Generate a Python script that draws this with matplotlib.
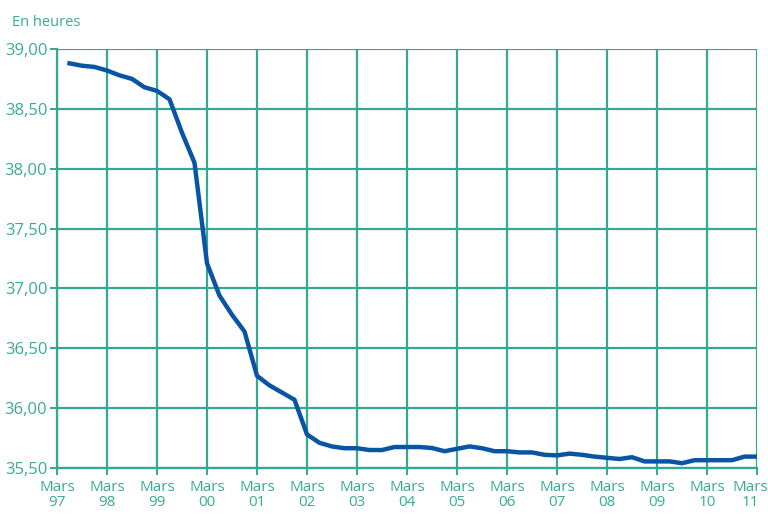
import matplotlib.pyplot as plt
import matplotlib.transforms as mtransforms

# =========================
# Données (trimestrielles, juin 97 -> mars 11)
# =========================
tick_labels = [
    "Mars\n97", "Mars\n98", "Mars\n99", "Mars\n00", "Mars\n01",
    "Mars\n02", "Mars\n03", "Mars\n04", "Mars\n05", "Mars\n06",
    "Mars\n07", "Mars\n08", "Mars\n09", "Mars\n10", "Mars\n11"
]

heures = [
    38.88, 38.86, 38.85,
    38.82, 38.78, 38.75, 38.68,
    38.65, 38.58, 38.30, 38.05,
    37.21, 36.94, 36.78, 36.64,
    36.27, 36.19, 36.13, 36.07,
    35.78, 35.71, 35.68, 35.665,
    35.665, 35.65, 35.65, 35.675,
    35.675, 35.675, 35.667, 35.64,
    35.66, 35.68, 35.665, 35.64,
    35.64, 35.63, 35.63, 35.61,
    35.605, 35.62, 35.61, 35.595,
    35.585, 35.575, 35.59, 35.555,
    35.555, 35.555, 35.54, 35.565,
    35.565, 35.565, 35.565, 35.595,
    35.595
]

y_ticks = [35.5, 36.0, 36.5, 37.0, 37.5, 38.0, 38.5, 39.0]

TEAL = "#33a892"
TEXT = "#3aab96"
BLUE = "#0a55a3"

plt.rcParams["font.family"] = ["Open Sans", "DejaVu Sans"]

fig = plt.figure(figsize=(7.68, 5.15), dpi=100)
ax = fig.add_axes([0.0742, 0.0913, 0.9115, 0.8136])

# trimestres : 0 = mars 97
x = list(range(1, len(heures) + 1))

ax.plot(x, heures, color=BLUE, linewidth=3.2, zorder=3)

ax.set_xlim(0, 56)
ax.set_ylim(35.5, 39.0)

ax.set_xticks([4 * i for i in range(len(tick_labels))])
ax.set_xticklabels(tick_labels)
ax.set_yticks(y_ticks)
ax.set_yticklabels([f"{v:.2f}".replace(".", ",") for v in y_ticks])

ax.grid(True, color=TEAL, linewidth=1.6)
ax.set_axisbelow(True)

for side in ["top", "right"]:
    ax.spines[side].set_visible(False)
for side in ["left", "bottom"]:
    ax.spines[side].set_color(TEAL)
    ax.spines[side].set_linewidth(1.6)

ax.tick_params(axis="both", colors=TEAL, labelcolor=TEXT,
               length=5, width=1.4)
ax.tick_params(axis="x", labelsize=11, pad=4)
ax.tick_params(axis="y", labelsize=12, pad=2)

for lab in ax.get_xticklabels():
    lab.set_linespacing(1.0)

# dernier label décalé pour rester dans l'image
last = ax.get_xticklabels()[-1]
shift = mtransforms.ScaledTranslation(-7 / 100, 0, fig.dpi_scale_trans)
last.set_transform(last.get_transform() + shift)

fig.text(0.016, 0.957, "En heures", color=TEXT, fontsize=10.5,
         ha="left", va="center")

fig.savefig("out.png", dpi=100)
